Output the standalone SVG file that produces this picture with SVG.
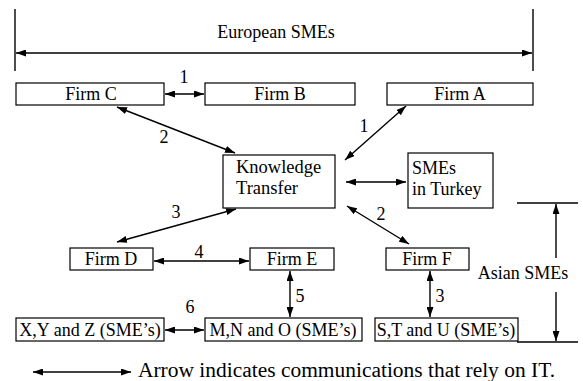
<svg xmlns="http://www.w3.org/2000/svg" width="583" height="381" viewBox="0 0 583 381">
<defs>
<marker id="ah" viewBox="0 0 10 7" refX="10" refY="3.5" markerWidth="10" markerHeight="7" markerUnits="userSpaceOnUse" orient="auto-start-reverse">
<path d="M0,0 L10,3.5 L0,7 z" fill="#000"/>
</marker>
</defs>
<style>
text{font-family:'Liberation Serif','Times New Roman',serif;font-size:18px;fill:#000}
.c{text-anchor:middle}
rect{fill:#fff;stroke:#000;stroke-width:1.2}
.a{stroke:#000;stroke-width:1.4;fill:none;marker-start:url(#ah);marker-end:url(#ah)}
.s{stroke:#000;stroke-width:1.4;fill:none}
.e{stroke:#000;stroke-width:1.4;fill:none;marker-end:url(#ah)}
</style>
<rect x="0" y="0" width="583" height="381" style="stroke:none"/>
<g id="european">
<line class="s" x1="15" y1="9" x2="15" y2="71"/>
<line class="s" x1="533" y1="9" x2="533" y2="71"/>
<line class="a" x1="16" y1="53" x2="532" y2="53"/>
<text class="c" x="276" y="38">European SMEs</text>
</g>
<g id="firmC"><rect x="16" y="83" width="148" height="22"/><text class="c" x="91" y="100">Firm C</text></g>
<g id="firmB"><rect x="205" y="83" width="150" height="22"/><text class="c" x="280" y="100">Firm B</text></g>
<g id="firmA"><rect x="387" y="83" width="146" height="22"/><text class="c" x="460" y="100">Firm A</text></g>
<g id="kt"><rect x="223" y="155" width="112" height="53"/><text x="236" y="173" style="font-size:18.5px">Knowledge</text><text x="236" y="194" style="font-size:18.5px">Transfer</text></g>
<g id="turkey"><rect x="408" y="153" width="85" height="55"/><text x="412" y="174">SMEs</text><text x="412" y="195">in Turkey</text></g>
<g id="firmD"><rect x="70" y="248" width="83" height="22"/><text class="c" x="111" y="265">Firm D</text></g>
<g id="firmE"><rect x="250" y="248" width="84" height="22"/><text class="c" x="292" y="265">Firm E</text></g>
<g id="firmF"><rect x="386" y="248" width="83" height="22"/><text class="c" x="427" y="265">Firm F</text></g>
<g id="xyz"><rect x="16" y="318" width="148" height="23"/><text class="c" x="90" y="336">X,Y and Z (SME’s)</text></g>
<g id="mno"><rect x="205" y="318" width="157" height="23"/><text class="c" x="283" y="336">M,N and O (SME’s)</text></g>
<g id="stu"><rect x="375" y="318" width="143" height="23"/><text class="c" x="446" y="336">S,T and U (SME’s)</text></g>
<g id="asian">
<line class="s" x1="517" y1="203" x2="578" y2="203"/>
<line class="s" x1="517" y1="342" x2="578" y2="342"/>
<line class="e" x1="556" y1="258" x2="556" y2="204"/>
<line class="e" x1="556" y1="292" x2="556" y2="341"/>
<text class="c" x="523" y="279">Asian SMEs</text>
</g>
<g id="connectors">
<line class="a" x1="165" y1="94" x2="204" y2="94"/>
<line class="a" x1="117" y1="107" x2="235" y2="153"/>
<line class="a" x1="406" y1="106" x2="345" y2="160"/>
<line class="a" x1="346" y1="182" x2="406" y2="182"/>
<line class="a" x1="236" y1="209" x2="117" y2="242"/>
<line class="a" x1="347" y1="206" x2="409" y2="244"/>
<line class="a" x1="154" y1="261" x2="249" y2="261"/>
<line class="a" x1="290" y1="271" x2="290" y2="317"/>
<line class="a" x1="430" y1="271" x2="430" y2="317"/>
<line class="a" x1="165" y1="330" x2="204" y2="330"/>
</g>
<g id="labels">
<text class="c" x="184" y="83">1</text>
<text class="c" x="164" y="143">2</text>
<text class="c" x="364" y="132">1</text>
<text class="c" x="176" y="218">3</text>
<text class="c" x="381" y="220">2</text>
<text class="c" x="199" y="258">4</text>
<text class="c" x="300" y="302">5</text>
<text class="c" x="440" y="302">3</text>
<text class="c" x="190" y="313">6</text>
</g>
<g id="legend">
<line class="a" x1="33" y1="372" x2="131" y2="372"/>
<text x="138" y="377" style="font-size:20px" textLength="417" lengthAdjust="spacingAndGlyphs">Arrow indicates communications that rely on IT.</text>
</g>
</svg>
